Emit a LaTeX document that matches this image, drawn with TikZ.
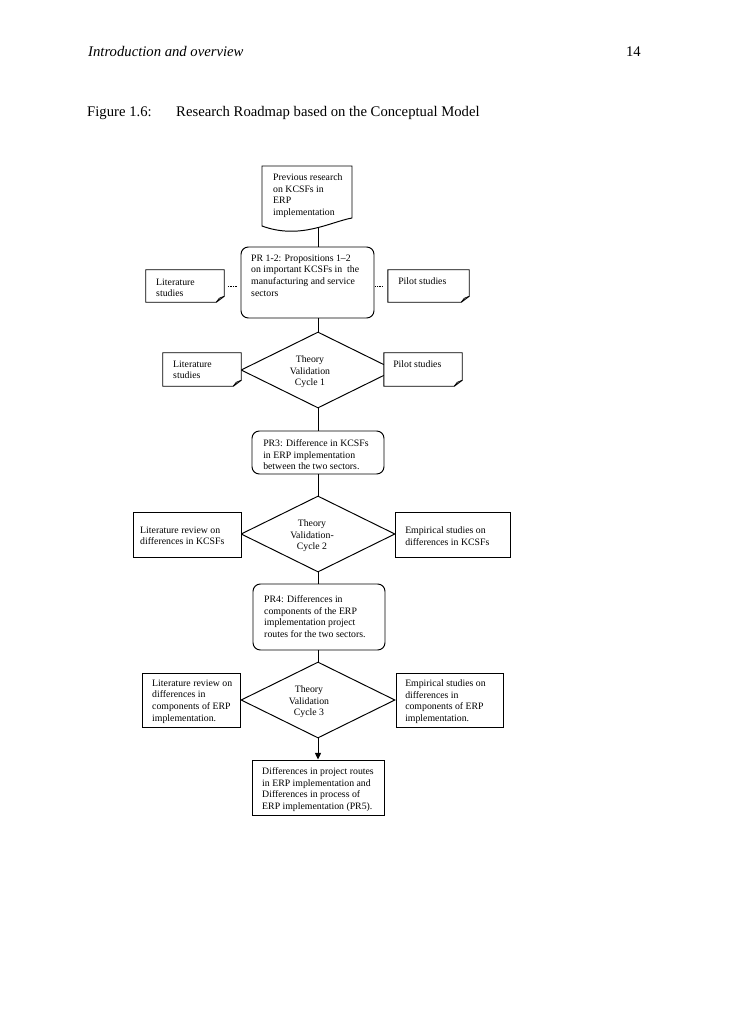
\documentclass[tikz,border=0pt]{standalone}
\usepackage{fontspec}
\setmainfont{Liberation Serif}
\usetikzlibrary{shapes.geometric,arrows.meta}
\newcommand\pxl[1]{#1*0.8173pt}
\tikzset{
  boxline/.style={draw=black, line width=0.8pt},
  plainbox/.style={boxline, fill=white, inner sep=0pt},
  roundbox/.style={boxline, fill=white, inner sep=0pt, rounded corners=6pt},
  decision/.style={boxline, diamond, inner sep=0pt, minimum width=\pxl{154}, minimum height=\pxl{76}},
  conn/.style={line width=0.8pt},
  dotconn/.style={line width=0.5pt, dash pattern=on 0.6pt off 0.7pt},
  txt/.style={inner sep=0pt, anchor=north west, align=left, font=\fontsize{8}{9.5}\selectfont},
  ctxt/.style={inner sep=0pt, anchor=north, align=center, font=\fontsize{8}{9.5}\selectfont},
  big/.style={inner sep=0pt, font=\fontsize{12}{14}\selectfont}
}
\newcommand\foldnode[5]{%
  \node[inner sep=0pt, minimum width=\pxl{#4}, minimum height=\pxl{#5}] (#1) at (#2,#3) {};
  \draw[boxline, fill=white] (#1.north west) -- (#1.north east) -- ([yshift=\pxl{6}]#1.south east)
     -- ([xshift=-\pxl{8}]#1.south east) -- (#1.south west) -- cycle;
  \draw[line width=0.6pt] ([xshift=-\pxl{8}]#1.south east) -- ([xshift=-\pxl{5},yshift=\pxl{4}]#1.south east)
     -- ([yshift=\pxl{6}]#1.south east);
}
\begin{document}
\begin{tikzpicture}[x=0.8173pt, y=-0.8173pt]
\useasboundingbox (0,0) rectangle (728,1031);

% header and caption
\node[big, anchor=base west] (hdr) at (88,56.5) {\itshape Introduction and overview};
\node[big, anchor=base east] (pg) at (641,56.5) {14};
\node[big, anchor=base west] (fig) at (87,116.5) {Figure 1.6:};
\node[big, anchor=base west] (title) at (176,116.5) {Research Roadmap based on the Conceptual Model};

% document shape
\draw[boxline, fill=white] (262,166) -- (352,166) -- (352,218)
  .. controls (330,222) and (300,240) .. (262,226) -- cycle;
\coordinate (docb) at (318,228.5);
\node[txt] (tdoc) at (273,173.5) {Previous research\\on KCSFs in\\ERP\\implementation};

% row 1
\node[roundbox, minimum width=\pxl{133}, minimum height=\pxl{71}] (pr12) at (307.5,282.5) {};
\node[txt] (tpr12) at (251,254.5) {PR 1-2: Propositions 1--2\\on important KCSFs in~ the\\manufacturing and service\\sectors};
\foldnode{lit1}{185}{286}{78}{32}
\node[txt] (tlit1) at (156,278.5) {Literature\\studies};
\foldnode{pil1}{428.5}{286}{81}{32}
\node[txt] (tpil1) at (398,277.5) {Pilot studies};
\draw[dotconn, shorten <=\pxl{4}, shorten >=\pxl{3}] (lit1.east) -- (lit1.east -| pr12.west);
\draw[dotconn, shorten <=\pxl{1}, shorten >=\pxl{5}] (pil1.west -| pr12.east) -- (pil1.west);

% cycle 1
\node[decision] (d1) at (318,370) {};
\node[ctxt] (td1) at (310,355.5) {Theory\\Validation\\Cycle 1};
\foldnode{lit2}{202}{369.5}{78}{33}
\node[txt] (tlit2) at (173,360.5) {Literature\\studies};
\foldnode{pil2}{423}{369.5}{78}{33}
\node[txt] (tpil2) at (393,360.5) {Pilot studies};

% PR3
\node[roundbox, minimum width=\pxl{132}, minimum height=\pxl{43}] (pr3) at (318,452.5) {};
\node[txt] (tpr3) at (263,439.5) {PR3: Difference in KCSFs\\in ERP implementation\\between the two sectors.};

% cycle 2
\node[decision] (d2) at (318,534) {};
\node[ctxt] (td2) at (312,519.5) {Theory\\Validation-\\Cycle 2};
\node[plainbox, minimum width=\pxl{108}, minimum height=\pxl{45}] (lr2) at (187,534.5) {};
\node[txt] (tlr2) at (140,526.5) {Literature review on\\differences in KCSFs};
\node[plainbox, minimum width=\pxl{115}, minimum height=\pxl{45}] (em2) at (452.5,534.5) {};
\node[txt] (tem2) at (405,526.5) {Empirical studies on\\differences in KCSFs};

% PR4
\node[roundbox, minimum width=\pxl{132}, minimum height=\pxl{66}] (pr4) at (319,617) {};
\node[txt] (tpr4) at (264,595.5) {PR4: Differences in\\components of the ERP\\implementation project\\routes for the two sectors.};

% cycle 3
\node[decision] (d3) at (318,700) {};
\node[ctxt] (td3) at (309,685.5) {Theory\\Validation\\Cycle 3};
\node[plainbox, minimum width=\pxl{98}, minimum height=\pxl{54}] (lr3) at (191,700) {};
\node[txt] (tlr3) at (152,679.5) {Literature review on\\differences in\\components of ERP\\implementation.};
\node[plainbox, minimum width=\pxl{107}, minimum height=\pxl{54}] (em3) at (449.5,700) {};
\node[txt] (tem3) at (405,679.5) {Empirical studies on\\differences in\\components of ERP\\implementation.};

% final
\node[plainbox, minimum width=\pxl{132}, minimum height=\pxl{55}] (fin) at (318,787.5) {};
\node[txt] (tfin) at (262,767.5) {Differences in project routes\\in ERP implementation and\\Differences in process of\\ERP implementation (PR5).};

% connectors
\draw[conn] (docb) -- (docb |- pr12.north);
\draw[conn] (d1.north |- pr12.south) -- (d1.north);
\draw[conn] (d1.south) -- (pr3.north);
\draw[conn] (pr3.south) -- (d2.north);
\draw[conn] (d2.south) -- (d2.south |- pr4.north);
\draw[conn] (d3.north |- pr4.south) -- (d3.north);
\draw[conn, -{Triangle[width=5pt,length=5.5pt]}] (d3.south) -- (fin.north);
\end{tikzpicture}
\end{document}
